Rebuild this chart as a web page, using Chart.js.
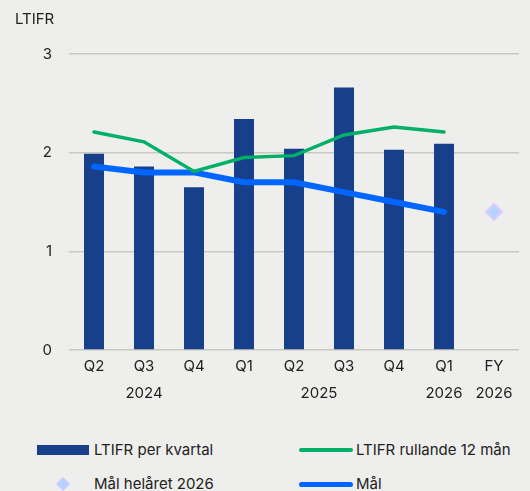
<!DOCTYPE html>
<html>
<head>
<meta charset="utf-8">
<script src="https://cdn.jsdelivr.net/npm/chart.js@4.4.1/dist/chart.umd.min.js"></script>
<style>
    html, body { margin: 0; padding: 0; background: #eeeeec; }
    #wrap { position: relative; width: 530px; height: 491px; font-family: Inter, sans-serif; color: #222; }
    #chartBox { position: absolute; left: 0; top: 0; width: 530px; height: 415px; }
    .leg { position: absolute; font-size: 15px; line-height: 18px; white-space: nowrap; }
    .sw { position: absolute; }
</style>
</head>
<body>
<div id="wrap">
    <div id="chartBox"><canvas id="ltifrChart"></canvas></div>
    <div id="legend"></div>
</div>
<script>
const categories = ['Q2', 'Q3', 'Q4', 'Q1', 'Q2', 'Q3', 'Q4', 'Q1', 'FY'];
const yearGroups = [
    { label: '2024', first: 0, last: 2 },
    { label: '2025', first: 3, last: 6 },
    { label: '2026', first: 7, last: 7 },
    { label: '2026', first: 8, last: 8 }
];
const ltifrQuarter = [1.99, 1.86, 1.65, 2.34, 2.04, 2.66, 2.03, 2.09, null];
const ltifrRolling = [2.21, 2.11, 1.81, 1.95, 1.97, 2.18, 2.26, 2.21, null];
const targetPath = [1.86, 1.80, 1.80, 1.70, 1.70, 1.60, 1.50, 1.40, null];
const targetFullYear = [null, null, null, null, null, null, null, null, 1.40];
const yTicks = [0, 1, 2, 3];

const BAR = '#173f8a';
const GREEN = '#00b067';
const BLUE = '#0066ff';
const DIAMOND_FILL = '#b5d3ff';
const DIAMOND_EDGE = '#dccbff';
const TEXT = '#222222';
const FONT = 'Inter, sans-serif';

// year row under the quarter labels
const yearRowPlugin = {
    id: 'yearRow',
    afterDraw(chart) {
        const x = chart.scales.x;
        const ctx = chart.ctx;
        ctx.save();
        ctx.font = '15px ' + FONT;
        ctx.fillStyle = TEXT;
        ctx.textAlign = 'center';
        ctx.textBaseline = 'middle';
        yearGroups.forEach(g => {
            const px = (x.getPixelForValue(g.first) + x.getPixelForValue(g.last)) / 2;
            ctx.fillText(g.label, px, chart.chartArea.bottom + 43);
        });
        ctx.restore();
    }
};

const chart = new Chart(document.getElementById('ltifrChart'), {
    data: {
        labels: categories,
        datasets: [
            {
                type: 'bar',
                label: 'LTIFR per kvartal',
                data: ltifrQuarter,
                backgroundColor: BAR,
                categoryPercentage: 0.8,
                barPercentage: 0.5,
                order: 4
            },
            {
                type: 'line',
                label: 'LTIFR rullande 12 mån',
                data: ltifrRolling,
                borderColor: GREEN,
                borderWidth: 3.5,
                borderCapStyle: 'round',
                pointRadius: 0,
                tension: 0,
                order: 2
            },
            {
                type: 'line',
                label: 'Mål helåret 2026',
                data: targetFullYear,
                showLine: false,
                pointStyle: 'rectRot',
                pointRadius: 8,
                pointBackgroundColor: DIAMOND_FILL,
                pointBorderColor: DIAMOND_EDGE,
                pointBorderWidth: 2,
                order: 1
            },
            {
                type: 'line',
                label: 'Mål',
                data: targetPath,
                borderColor: BLUE,
                borderWidth: 6,
                borderCapStyle: 'round',
                borderJoinStyle: 'round',
                pointRadius: 0,
                tension: 0,
                order: 3
            }
        ]
    },
    options: {
        responsive: true,
        maintainAspectRatio: false,
        animation: false,
        layout: { padding: { left: 15, right: 11, top: 0, bottom: 0 } },
        plugins: {
            legend: { display: false },
            tooltip: { enabled: false },
            title: {
                display: true,
                text: 'LTIFR',
                align: 'start',
                color: TEXT,
                font: { family: FONT, size: 15, weight: 'normal', lineHeight: 1.2 },
                padding: { top: 10, bottom: 26 }
            }
        },
        scales: {
            x: {
                grid: { display: false, drawTicks: false },
                border: { display: false },
                ticks: {
                    color: TEXT,
                    padding: 7,
                    maxRotation: 0,
                    autoSkip: false,
                    font: { family: FONT, size: 15 }
                },
                afterFit(scale) { scale.height = 65; }
            },
            y: {
                min: 0,
                max: 3,
                grid: { color: '#c9c9c1', lineWidth: 1.5, drawTicks: false },
                border: { display: false },
                afterBuildTicks(scale) { scale.ticks = yTicks.map(v => ({ value: v })); },
                ticks: {
                    color: TEXT,
                    padding: 17,
                    font: { family: FONT, size: 15 }
                },
                afterFit(scale) { scale.width = 54; }
            }
        }
    },
    plugins: [yearRowPlugin]
});

// two-column legend below the chart
const legendSlots = [
    { ds: 0, left: 37, top: 450 },
    { ds: 1, left: 299, top: 450 },
    { ds: 2, left: 37, top: 484 },
    { ds: 3, left: 299, top: 484 }
];
const legendEl = document.getElementById('legend');
legendSlots.forEach(slot => {
    const ds = chart.data.datasets[slot.ds];
    const sw = document.createElement('div');
    sw.className = 'sw';
    if (ds.type === 'bar') {
        Object.assign(sw.style, { left: slot.left + 'px', top: (slot.top - 5) + 'px', width: '52px', height: '10px', background: ds.backgroundColor });
    } else if (ds.showLine === false) {
        Object.assign(sw.style, { left: (slot.left + 21) + 'px', top: (slot.top - 5) + 'px', width: '8px', height: '8px', background: ds.pointBackgroundColor, border: '1.5px solid ' + ds.pointBorderColor, transform: 'rotate(45deg)' });
    } else {
        const h = ds.borderWidth > 4 ? 5 : 4;
        Object.assign(sw.style, { left: slot.left + 'px', top: (slot.top - h / 2) + 'px', width: '54px', height: h + 'px', background: ds.borderColor, borderRadius: '3px' });
    }
    legendEl.appendChild(sw);
    const txt = document.createElement('div');
    txt.className = 'leg';
    txt.textContent = ds.label;
    Object.assign(txt.style, { left: (slot.left + 57) + 'px', top: (slot.top - 9) + 'px' });
    legendEl.appendChild(txt);
});
</script>
</body>
</html>
